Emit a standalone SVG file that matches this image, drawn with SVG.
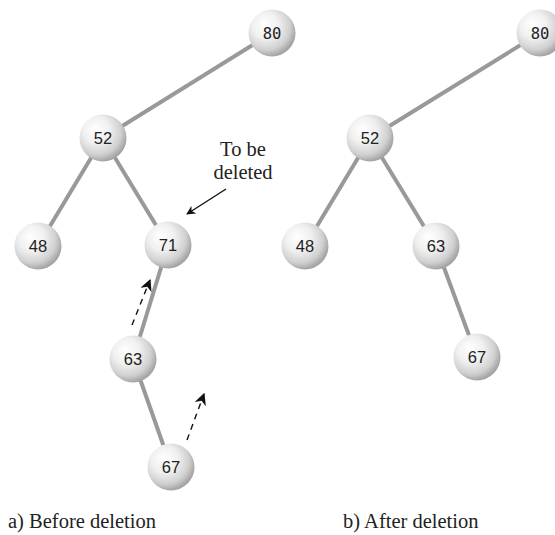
<svg xmlns="http://www.w3.org/2000/svg" width="555" height="535" viewBox="0 0 555 535">
<defs>
<radialGradient id="ball" cx="0.4" cy="0.38" r="0.62" fx="0.33" fy="0.3">
<stop offset="0" stop-color="#ffffff"/>
<stop offset="0.45" stop-color="#f0f0f0"/>
<stop offset="0.8" stop-color="#d0d0d0"/>
<stop offset="1" stop-color="#a5a5a5"/>
</radialGradient>
<marker id="ah" viewBox="0 0 10 10" refX="9" refY="5" markerWidth="9" markerHeight="9" markerUnits="userSpaceOnUse" orient="auto">
<path d="M0,0 L10,5 L0,10 L3,5 Z" fill="#111"/>
</marker>
<marker id="ah2" viewBox="0 0 10 10" refX="9" refY="5" markerWidth="12" markerHeight="12" markerUnits="userSpaceOnUse" orient="auto">
<path d="M0,0 L10,5 L0,10 L3,5 Z" fill="#111"/>
</marker>
</defs>
<style>
.edge{stroke:#999;stroke-width:4;fill:none}
.node circle{fill:url(#ball)}
.num{font-family:"Liberation Sans",Arial,sans-serif;font-size:16.5px;fill:#222;text-anchor:middle}
.mono{font-family:"DejaVu Sans Mono",monospace;font-size:15.5px;fill:#222;text-anchor:middle}
.lbl{font-family:"Liberation Serif","Times New Roman",serif;font-size:20.5px;fill:#222}
.dash{stroke:#111;stroke-width:1.4;stroke-dasharray:6,5;fill:none}
.ptr{stroke:#111;stroke-width:1.4;fill:none}
</style>
<g id="connectors">
<line class="edge" x1="272" y1="33" x2="103" y2="138"/>
<line class="edge" x1="103" y1="138" x2="38" y2="246"/>
<line class="edge" x1="103" y1="138" x2="168" y2="245"/>
<line class="edge" x1="168" y1="245" x2="133" y2="359"/>
<line class="edge" x1="133" y1="359" x2="171" y2="467"/>
<line class="edge" x1="540" y1="33" x2="370" y2="138"/>
<line class="edge" x1="370" y1="138" x2="305" y2="246"/>
<line class="edge" x1="370" y1="138" x2="436" y2="246"/>
<line class="edge" x1="436" y1="246" x2="477" y2="357"/>
<line class="ptr" x1="226" y1="189" x2="187" y2="214" marker-end="url(#ah)"/>
<line class="dash" x1="132" y1="325" x2="150" y2="280" marker-end="url(#ah2)"/>
<line class="dash" x1="187" y1="440" x2="204" y2="394" marker-end="url(#ah2)"/>
</g>
<g id="a80" class="node"><circle cx="272" cy="33" r="23.5"/><text class="mono" x="272" y="38.5">80</text></g>
<g id="a52" class="node"><circle cx="103" cy="138" r="23.5"/><text class="num" x="103" y="144">52</text></g>
<g id="a48" class="node"><circle cx="38" cy="246" r="23.5"/><text class="num" x="38" y="252">48</text></g>
<g id="a71" class="node"><circle cx="168" cy="245" r="23.5"/><text class="num" x="168" y="251">71</text></g>
<g id="a63" class="node"><circle cx="133" cy="359" r="23.5"/><text class="num" x="133" y="365">63</text></g>
<g id="a67" class="node"><circle cx="171" cy="467" r="23.5"/><text class="num" x="171" y="473">67</text></g>
<g id="b80" class="node"><circle cx="540" cy="33" r="23.5"/><text class="mono" x="540" y="38.5">80</text></g>
<g id="b52" class="node"><circle cx="370" cy="138" r="23.5"/><text class="num" x="370" y="144">52</text></g>
<g id="b48" class="node"><circle cx="305" cy="246" r="23.5"/><text class="num" x="305" y="252">48</text></g>
<g id="b63" class="node"><circle cx="436" cy="246" r="23.5"/><text class="num" x="436" y="252">63</text></g>
<g id="b67" class="node"><circle cx="477" cy="357" r="23.5"/><text class="num" x="477" y="363">67</text></g>
<g id="labels">
<text class="lbl" x="243" y="156" text-anchor="middle">To be</text>
<text class="lbl" x="243" y="179" text-anchor="middle">deleted</text>
<text class="lbl" x="8" y="528">a) Before deletion</text>
<text class="lbl" x="343" y="528">b) After deletion</text>
</g>
</svg>
